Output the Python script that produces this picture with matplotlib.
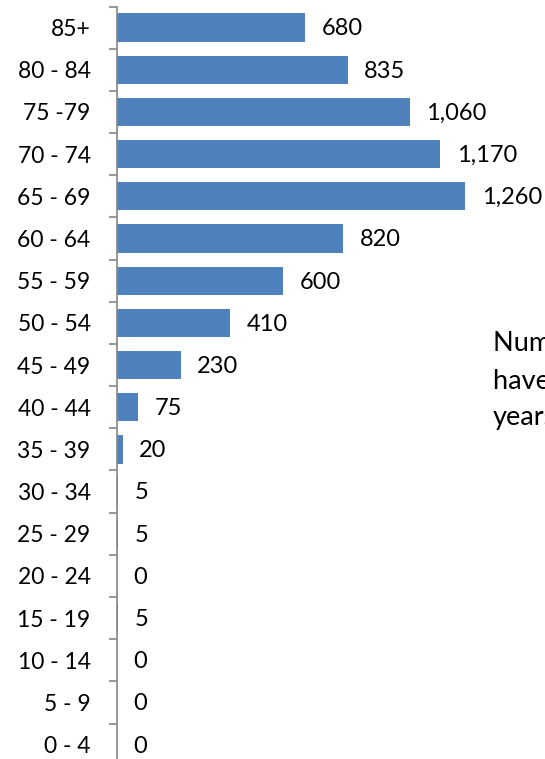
import matplotlib
matplotlib.use("Agg")
import matplotlib.pyplot as plt
import numpy as np

plt.rcParams['font.family'] = ['Lato', 'DejaVu Sans']

age_groups = ['85+', '80 - 84', '75 -79', '70 - 74', '65 - 69', '60 - 64',
              '55 - 59', '50 - 54', '45 - 49', '40 - 44', '35 - 39', '30 - 34',
              '25 - 29', '20 - 24', '15 - 19', '10 - 14', '5 - 9', '0 - 4']
counts = [680, 835, 1060, 1170, 1260, 820, 600, 410, 230, 75, 20, 5, 5, 0, 5, 0, 0, 0]
side_note = ['Number of people who', 'have been diagnosed', 'years']

W, H = 545, 759
fig = plt.figure(figsize=(W / 100, H / 100), dpi=100)

# plot area runs off the bottom of the picture, like the cropped original
top_px, step = 6.5, 42.18
n = len(age_groups)
bottom_px = top_px + n * step
ax = fig.add_axes([117 / W, 1 - bottom_px / H, (W - 117) / W, n * step / H])

y = np.arange(n)
ax.barh(y, counts, height=0.67, color='#4F81BD')
ax.set_ylim(n - 0.5, -0.5)
ax.set_xlim(0, (W - 117) / 0.2762)

for yi, v in zip(y, counts):
    ax.annotate(f'{v:,}', (v, yi), xytext=(12, -1), textcoords='offset points',
                ha='left', va='center', fontsize=17, color='black')

ax.set_yticks(y)
ax.set_yticklabels(age_groups, fontsize=16.5)
ax.set_yticks(np.arange(n + 1) - 0.5, minor=True)
ax.tick_params(axis='y', which='major', length=0, pad=19)
ax.tick_params(axis='y', which='minor', length=6, color='#868686', width=1.2)
ax.set_xticks([])

for s in ['top', 'right', 'bottom']:
    ax.spines[s].set_visible(False)
ax.spines['left'].set_color('#868686')
ax.spines['left'].set_linewidth(1.2)

for i, line in enumerate(side_note):
    fig.text(493 / W, 1 - (344 + 37 * i) / H, line, fontsize=19.5,
             ha='left', va='center')

fig.savefig('out.png', dpi=100)
